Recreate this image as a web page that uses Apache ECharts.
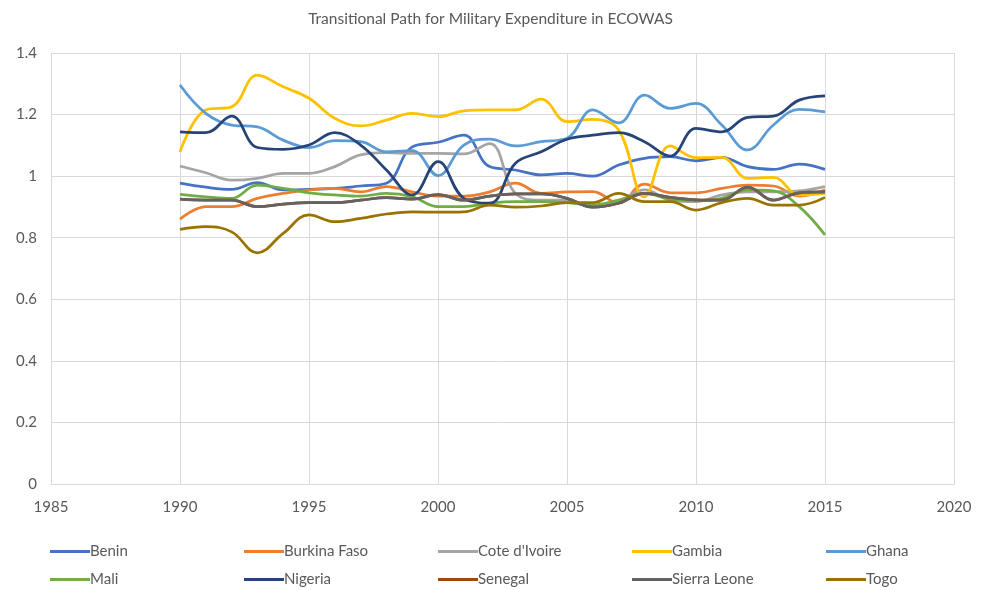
<!DOCTYPE html>
<html>
<head>
<meta charset="utf-8">
<script src="https://cdn.jsdelivr.net/npm/echarts@6/dist/echarts.min.js"></script>
<style>
  html, body { margin: 0; padding: 0; background: #fff; }
  #main { width: 981px; height: 590px; }
</style>
</head>
<body>
<div id="main"></div>
<script>
// years 1990-2015
const years = [1990, 1991, 1992, 1993, 1994, 1995, 1996, 1997, 1998, 1999, 2000, 2001, 2002,
  2003, 2004, 2005, 2006, 2007, 2008, 2009, 2010, 2011, 2012, 2013, 2014, 2015];

const countries = ['Benin', 'Burkina Faso', "Cote d'Ivoire", 'Gambia', 'Ghana',
  'Mali', 'Nigeria', 'Senegal', 'Sierra Leone', 'Togo'];

const colors = ['#4472C4', '#ED7D31', '#A5A5A5', '#FFC000', '#5B9BD5',
  '#70AD47', '#264478', '#9E480E', '#636363', '#997300'];

const benin = [0.977, 0.964, 0.957, 0.979, 0.955, 0.957, 0.960, 0.968, 0.977, 1.095, 1.110, 1.133, 1.031,
  1.020, 1.004, 1.009, 1.000, 1.036, 1.058, 1.063, 1.050, 1.061, 1.031, 1.022, 1.039, 1.022];
const burkinaFaso = [0.860, 0.901, 0.901, 0.928, 0.944, 0.955, 0.960, 0.949, 0.966, 0.949, 0.935, 0.935, 0.949,
  0.977, 0.944, 0.949, 0.950, 0.912, 0.974, 0.946, 0.946, 0.960, 0.971, 0.968, 0.935, 0.955];
const coteDIvoire = [1.033, 1.011, 0.987, 0.993, 1.009, 1.009, 1.031, 1.069, 1.076, 1.074, 1.074, 1.072, 1.106,
  0.944, 0.922, 0.922, 0.901, 0.917, 0.955, 0.922, 0.917, 0.939, 0.949, 0.949, 0.952, 0.966];
const gambia = [1.079, 1.215, 1.225, 1.328, 1.290, 1.253, 1.188, 1.163, 1.182, 1.204, 1.193, 1.212, 1.215,
  1.215, 1.250, 1.177, 1.184, 1.150, 0.933, 1.098, 1.060, 1.061, 0.993, 0.996, 0.939, 0.944];
const ghana = [1.296, 1.204, 1.166, 1.160, 1.117, 1.093, 1.115, 1.112, 1.079, 1.083, 1.002, 1.101, 1.120,
  1.098, 1.112, 1.123, 1.215, 1.173, 1.263, 1.220, 1.236, 1.166, 1.085, 1.166, 1.217, 1.209];
const mali = [0.941, 0.933, 0.928, 0.971, 0.960, 0.946, 0.939, 0.935, 0.944, 0.933, 0.901, 0.901, 0.912,
  0.917, 0.917, 0.914, 0.906, 0.922, 0.944, 0.925, 0.921, 0.928, 0.955, 0.952, 0.901, 0.809];
const nigeria = [1.144, 1.141, 1.195, 1.093, 1.087, 1.101, 1.141, 1.101, 1.020, 0.939, 1.047, 0.928, 0.912,
  1.042, 1.079, 1.120, 1.133, 1.141, 1.112, 1.065, 1.155, 1.144, 1.191, 1.195, 1.247, 1.261];
const senegal = [0.925, 0.922, 0.922, 0.901, 0.909, 0.914, 0.914, 0.922, 0.930, 0.925, 0.940, 0.922, 0.935,
  0.942, 0.942, 0.928, 0.899, 0.912, 0.944, 0.931, 0.923, 0.922, 0.964, 0.922, 0.946, 0.949];
const sierraLeone = [0.925, 0.922, 0.922, 0.901, 0.909, 0.914, 0.914, 0.922, 0.930, 0.925, 0.940, 0.922, 0.935,
  0.942, 0.942, 0.928, 0.899, 0.912, 0.944, 0.931, 0.923, 0.922, 0.964, 0.922, 0.946, 0.949];
const togo = [0.827, 0.836, 0.819, 0.751, 0.814, 0.874, 0.852, 0.863, 0.877, 0.884, 0.883, 0.884, 0.906,
  0.899, 0.903, 0.914, 0.914, 0.944, 0.917, 0.917, 0.890, 0.914, 0.928, 0.906, 0.906, 0.931];

const values = [benin, burkinaFaso, coteDIvoire, gambia, ghana, mali, nigeria, senegal, sierraLeone, togo];

const font = 'Lato, "Open Sans", sans-serif';
const textColor = '#595959';
const gridColor = '#d9d9d9';

const chart = echarts.init(document.getElementById('main'), null, { renderer: 'canvas' });

// one legend per item so the columns line up like in the original
const legends = countries.map((name, i) => ({
  data: [name],
  left: 45 + (i % 5) * 194,
  top: i < 5 ? 539 : 567,
  icon: 'rect',
  itemWidth: 40,
  itemHeight: 3,
  itemGap: 0,
  selectedMode: false,
  textStyle: { fontFamily: font, fontSize: 15, color: textColor, padding: [0, 0, 0, -5] }
}));

const option = {
  animation: false,
  color: colors,
  title: {
    text: 'Transitional Path for Military Expenditure in ECOWAS',
    left: 'center',
    top: 6,
    textStyle: { fontFamily: font, fontSize: 15.5, fontWeight: 'normal', color: textColor }
  },
  legend: legends,
  grid: { left: 51, right: 27, top: 53, bottom: 106 },
  xAxis: {
    type: 'value',
    min: 1985,
    max: 2020,
    interval: 5,
    axisLine: { show: true, lineStyle: { color: gridColor } },
    axisTick: { show: false },
    axisLabel: { fontFamily: font, fontSize: 15, color: textColor, margin: 16, formatter: v => String(v) },
    splitLine: { show: true, lineStyle: { color: gridColor, width: 1 } }
  },
  yAxis: {
    type: 'value',
    min: 0,
    max: 1.4,
    interval: 0.2,
    axisLine: { show: false },
    axisTick: { show: false },
    axisLabel: { fontFamily: font, fontSize: 15, color: textColor, margin: 14 },
    splitLine: { show: true, lineStyle: { color: gridColor, width: 1 } }
  },
  series: countries.map((name, i) => ({
    name: name,
    type: 'line',
    smooth: 0.4,
    showSymbol: false,
    symbol: 'none',
    lineStyle: { width: 2.75, color: colors[i] },
    data: years.map((y, k) => [y, values[i][k]])
  }))
};

chart.setOption(option);
</script>
</body>
</html>
